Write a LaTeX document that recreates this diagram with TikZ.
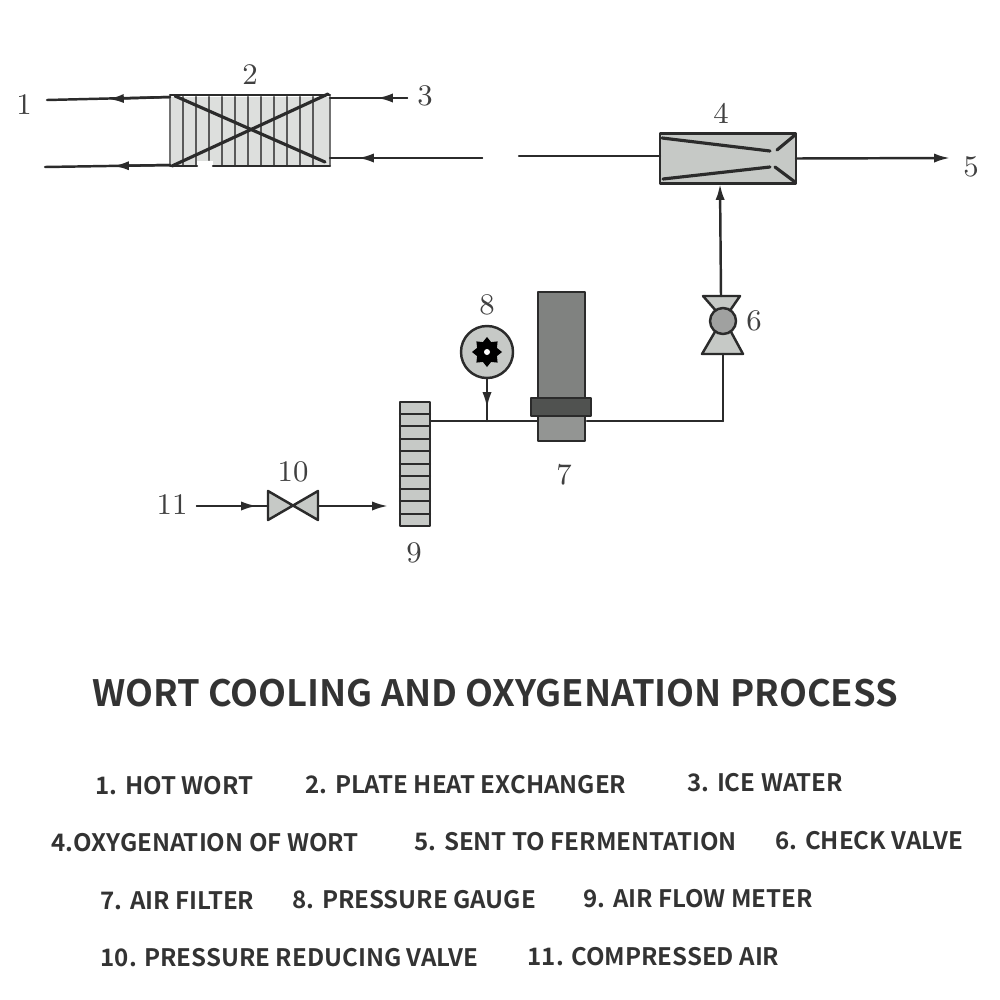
\documentclass[tikz,border=0pt]{standalone}
\usepackage{fontspec}
\newfontfamily\titlefont{Noto Sans CJK SC}[BoldFont={Noto Sans CJK SC Bold}]
\usetikzlibrary{arrows.meta,shapes.geometric}
\definecolor{inkc}{HTML}{2B2B2B}
\definecolor{partc}{HTML}{C6C9C6}
\definecolor{filterc}{HTML}{808280}
\definecolor{collarc}{HTML}{505250}
\definecolor{textc}{HTML}{333333}
\tikzset{
  pipe/.style={line width=0.7pt,draw=inkc},
  tipped/.style={pipe,-{Latex[length=4.5pt,width=2.6pt]}},
  part/.style={draw=inkc,line width=0.7pt,fill=partc,inner sep=0pt,outer sep=0pt},
  partnum/.style={text=black!75,font=\fontsize{8.5}{9}\selectfont},
  legend/.style={anchor=west,inner sep=0pt,text=textc,font=\titlefont\bfseries\fontsize{6.85}{8}\selectfont}
}
\begin{document}
\begin{tikzpicture}[x=0.01cm,y=-0.01cm,line cap=round,line join=round]
  \useasboundingbox (0,0) rectangle (1000,1000);
  \coordinate (HotIn) at (47,100);
  \coordinate (HotMid) at (108,99);
  \coordinate (HotPort) at (170,97);
  \coordinate (ColdOut) at (45,167);
  \coordinate (ColdMid) at (113,166);
  \coordinate (ColdPort) at (170,165);
  \coordinate (IceIn) at (407,98);
  \coordinate (IceMid) at (377,98);
  \coordinate (IcePort) at (330,98);
  \coordinate (WortEnd) at (482,158);
  \coordinate (WortMid) at (358,158);
  \coordinate (WortPort) at (330,158);
  \coordinate (MixIn) at (519,156);
  \coordinate (MixOut) at (950,158);
  \coordinate (Elbow) at (723,421);
  \coordinate (Tap) at (487,421);
  \coordinate (AirIn) at (197,506);
  \coordinate (AirMid) at (257,506);
  \coordinate (AirOut) at (388,506);
  % plate heat exchanger
  \fill[partc!60] (170,97) rectangle (330,165);
  \draw[line width=0.8pt,draw=black!65] (183,97) -- (183,165) (196,97) -- (196,165) (209,97) -- (209,160)
    (222,97) -- (222,165) (235,97) -- (235,165) (248,97) -- (248,165) (261,97) -- (261,165)
    (274,97) -- (274,165) (287,97) -- (287,165) (300,97) -- (300,165) (313,97) -- (313,165);
  \fill[white] (197,161) rectangle (213,168);
  \draw[pipe,draw=black!55] (170,97) -- (170,165);
  \draw[pipe,draw=black!55] (330,97) -- (330,165);
  \draw[pipe] (170,95) -- (330,95);
  \draw[pipe] (170,166) -- (197,166);
  \draw[pipe] (213,166) -- (330,166);
  \draw[pipe,line width=0.9pt] (175,96) -- (325,162);
  \draw[pipe,line width=0.9pt] (172,166) -- (328,94);
  \draw[pipe] (HotIn) -- (HotPort);
  \draw[tipped] (HotPort) -- (HotMid);
  \draw[pipe] (ColdOut) -- (ColdPort);
  \draw[tipped] (ColdPort) -- (ColdMid);
  \draw[pipe] (IcePort) -- (IceIn);
  \draw[tipped] (IceIn) -- (IceMid);
  \draw[pipe] (WortPort) -- (WortEnd);
  \draw[tipped] (WortEnd) -- (WortMid);
  % oxygenation unit
  \node[part,minimum width=1.36cm,minimum height=0.50cm] (Mixer) at (728,158.5) {};
  \draw[pipe,line width=0.9pt] (662,138) -- (770,151);
  \draw[pipe,line width=0.9pt] (663,179) -- (770,167);
  \draw[pipe,line width=0.9pt] (795,135) -- (777,150);
  \draw[pipe,line width=0.9pt] (795,182) -- (775,167);
  \draw[pipe] (MixIn) -- (Mixer.west |- MixIn);
  \draw[tipped] (Mixer.east) -- (MixOut);
  % check valve
  \draw[part] (703,296) -- (740,296) -- (729,312) -- (717,312) -- cycle;
  \draw[part] (702,354) -- (743,354) -- (730,330) -- (716,330) -- cycle;
  \node[part,fill=filterc!75,circle,minimum size=0.26cm] (CheckValve) at (723,321) {};
  \draw[tipped] (721,296) -- (720,184);
  \draw[pipe] (723,354) -- (Elbow);
  % air filter
  \node[part,fill=filterc,minimum width=0.47cm,minimum height=1.49cm] (Filter) at (561.5,366.5) {};
  \fill[filterc!85] (539,417) rectangle (584,440);
  \draw[pipe] (Elbow) -- (587,421);
  \draw[pipe] (430,421) -- (538,421);
  \node[part,fill=collarc,minimum width=0.60cm,minimum height=0.18cm] (Collar) at (561,407) {};
  % pressure gauge
  \node[part,circle,minimum size=0.52cm] (Gauge) at (487,352) {};
  \node[star,star points=8,star point ratio=1.4,fill=black,inner sep=0pt,minimum size=0.30cm] (GaugeStar) at (Gauge) {};
  \fill[white] (Gauge) circle (3);
  \draw[pipe] (Gauge.south) -- (Tap);
  \draw[tipped] (Gauge.south) -- (487,408);
  % flow meter
  \node[part,minimum width=0.30cm,minimum height=1.24cm] (Meter) at (415,464) {};
  \draw[pipe] (400,414) -- (430,414) (400,426) -- (430,426) (400,439) -- (430,439) (400,451) -- (430,451)
    (400,464) -- (430,464) (400,476) -- (430,476) (400,489) -- (430,489) (400,501) -- (430,501) (400,514) -- (430,514);
  % reducing valve
  \draw[part] (268,491) -- (318,520) -- (318,491) -- (268,520) -- cycle;
  \draw[pipe] (AirIn) -- (268,506);
  \draw[tipped] (AirIn) -- (AirMid);
  \draw[tipped] (318,506) -- (AirOut);
  % part numbers
  \node[partnum] (n1) at (24,105) {1};
  \node[partnum] (n2) at (250,75) {2};
  \node[partnum] (n3) at (425,96) {3};
  \node[partnum] (n4) at (721,113) {4};
  \node[partnum] (n5) at (971,167) {5};
  \node[partnum] (n6) at (754,321) {6};
  \node[partnum] (n7) at (564,475) {7};
  \node[partnum] (n8) at (487,305) {8};
  \node[partnum] (n9) at (414,553) {9};
  \node[partnum] (n10) at (293,472) {10};
  \node[partnum] (n11) at (172,505) {11};
  % caption
  \node[text=textc,inner sep=0pt,font=\titlefont\bfseries\fontsize{10.33}{12}\selectfont] (Title) at (495,693) {WORT COOLING AND OXYGENATION PROCESS};
  \node[legend] (l1) at (95,786) {1. HOT WORT};
  \node[legend] (l2) at (305,785) {2. PLATE HEAT EXCHANGER};
  \node[legend] (l3) at (687,783) {3. ICE WATER};
  \node[legend] (l4) at (51,843) {4.OXYGENATION OF WORT};
  \node[legend] (l5) at (414,842) {5. SENT TO FERMENTATION};
  \node[legend] (l6) at (775,841) {6. CHECK VALVE};
  \node[legend] (l7) at (100,901) {7. AIR FILTER};
  \node[legend] (l8) at (292,900) {8. PRESSURE GAUGE};
  \node[legend] (l9) at (583,899) {9. AIR FLOW METER};
  \node[legend] (l10) at (100,958) {10. PRESSURE REDUCING VALVE};
  \node[legend] (l11) at (527,957) {11. COMPRESSED AIR};
\end{tikzpicture}
\end{document}
